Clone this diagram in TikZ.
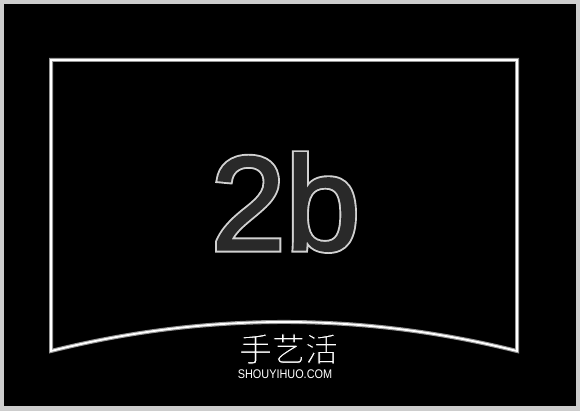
\documentclass[tikz,border=0pt]{standalone}
\usepackage{fontspec}
\setmainfont{Liberation Sans}
\newfontfamily\bigfont{Liberation Sans}
\newfontfamily\cjk{Noto Sans CJK SC}
\definecolor{rimgray}{RGB}{205,205,205}
\definecolor{linegray}{RGB}{150,150,150}
\newcommand\rimtext[1]{\special{pdf:code 1 Tr 5.2 w 0.82 G}#1\special{pdf:code 0 Tr 1 w}}
\newcommand\filltext[1]{\special{pdf:code 2 Tr 1.4 w 0.16 G 0.16 g}#1\special{pdf:code 0 Tr 1 w}}
\newcommand\thintext[1]{\special{pdf:code 2 Tr 0.9 w 0 G 1 g}#1\special{pdf:code 0 Tr 1 w}}
\tikzset{
  screenedge/.style={draw=linegray, line width=4pt, line join=miter},
  screencore/.style={draw=white, line width=1.8pt, line join=miter},
  bigtext/.style={inner sep=0pt, anchor=base},
}
\begin{document}
\begin{tikzpicture}[x=1pt,y=-1pt]
\useasboundingbox (0,0) rectangle (580,411);
% frame and background
\fill[rimgray] (0,0) rectangle (580,411);
\fill[black] (4,4) rectangle (576,406);
% screen outline
\path (51,60) coordinate (tl) (517,60) coordinate (tr) (517,351) coordinate (br) (51,351) coordinate (bl);
\draw[screenedge] (bl) -- (tl) -- (tr) -- (br) .. controls (361.7,312.3) and (206.3,312.3) .. (bl) -- cycle;
\draw[screencore] (bl) -- (tl) -- (tr) -- (br) .. controls (361.7,312.3) and (206.3,312.3) .. (bl) -- cycle;
% big label with outline
\node[bigtext] (labrim) at (285.5,250) {\bigfont\fontsize{134}{134}\selectfont\rimtext{2b}};
\node[bigtext] (lab) at (285.5,250) {\bigfont\fontsize{134}{134}\selectfont\filltext{2b}};
% watermark
\node[inner sep=0pt, text=white] (cjkmark) at (288.5,349) {\cjk\fontsize{33}{33}\selectfont\thintext{手艺活}};
\node[inner sep=0pt, anchor=base, text=white] (site) at (285,378) {\scalebox{0.87}[1]{\fontsize{12.5}{12.5}\selectfont SHOUYIHUO.COM}};
\end{tikzpicture}
\end{document}
